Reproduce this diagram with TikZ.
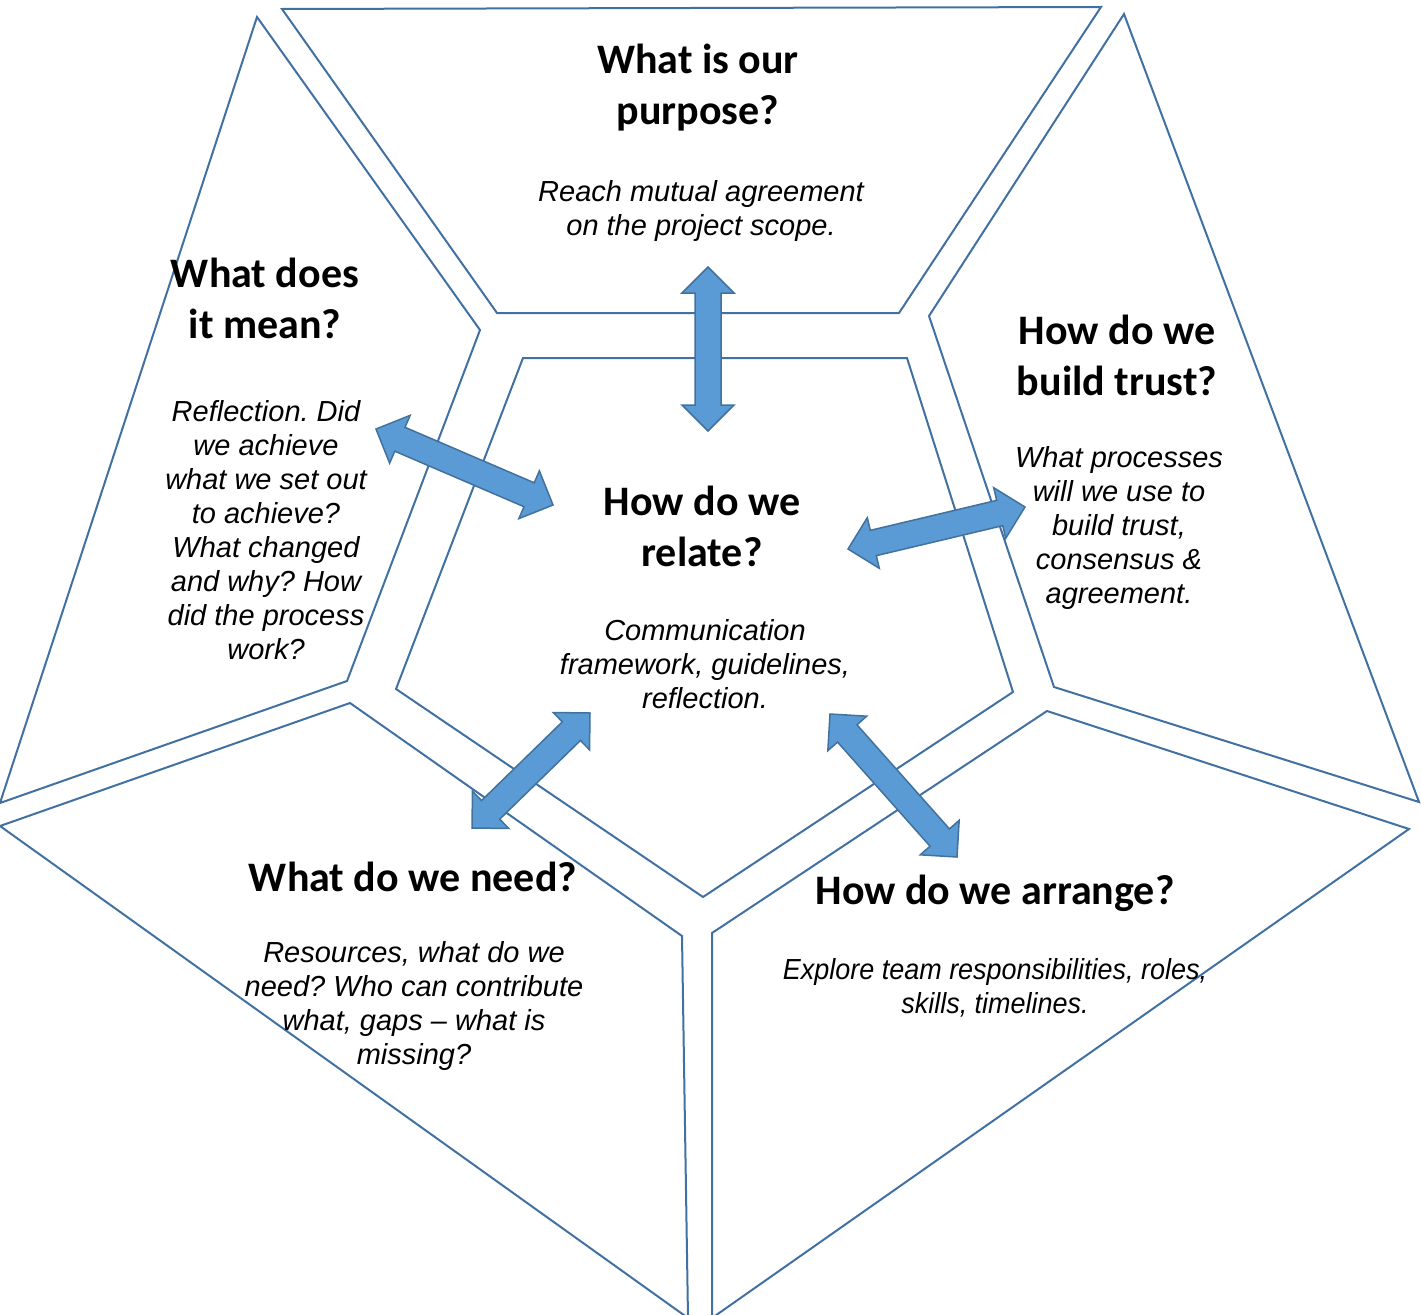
\documentclass[tikz,border=0pt]{standalone}
\usepackage{fontspec}
\setmainfont{Liberation Sans}
\newfontfamily\headfont{Carlito}
\newfontfamily\narrowfont[FakeStretch=0.93]{Liberation Sans}
\usetikzlibrary{calc}
\frenchspacing

\definecolor{edgeblue}{RGB}{65,113,163}
\definecolor{arrowfill}{RGB}{91,155,213}
\definecolor{arrowedge}{RGB}{65,113,156}

\tikzset{
  panel/.style={draw=edgeblue, line width=2pt, line join=miter},
  blockarrow/.style={fill=arrowfill, draw=arrowedge, line width=1.5pt, line join=miter},
  title/.style={font=\headfont\bfseries\fontsize{42}{51}\selectfont, align=center, inner sep=0pt},
  body/.style={font=\itshape\fontsize{29}{34}\selectfont, align=center, inner sep=0pt},
}

% double-headed block arrow between two named tips
\newcommand\blockarrow[2]{%
  \path ($(#1)!26pt!(#2)$) coordinate (ha) ($(#2)!26pt!(#1)$) coordinate (hb);
  \draw[blockarrow] (#1)
    -- ($(ha)!26pt!90:(#2)$) -- ($(ha)!13pt!90:(#2)$)
    -- ($(hb)!13pt!-90:(#1)$) -- ($(hb)!26pt!-90:(#1)$)
    -- (#2)
    -- ($(hb)!26pt!90:(#1)$) -- ($(hb)!13pt!90:(#1)$)
    -- ($(ha)!13pt!-90:(#2)$) -- ($(ha)!26pt!-90:(#2)$)
    -- cycle;
}

\begin{document}
\begin{tikzpicture}[x=1pt,y=-1pt]
\useasboundingbox (0,0) rectangle (1421,1314);

% the six panels
\begin{scope}
  \clip (0,0) rectangle (1421,1314);
  \draw[panel] (282,9) -- (1101,7) -- (899,313) -- (497,313) -- cycle;
  \draw[panel] (257,17) -- (480,330) -- (347,681) -- (0,803) -- cycle;
  \draw[panel] (1124,14) -- (929,316) -- (1054,687) -- (1419,802) -- cycle;
  \draw[panel] (350,703) -- (682,936) -- (688,1318) -- (0,826) -- cycle;
  \draw[panel] (1047,711) -- (1409,829) -- (712,1318) -- (712,933) -- cycle;
  \draw[panel] (523,358) -- (907,358) -- (1013,692) -- (703,897) -- (396,689) -- cycle;
\end{scope}

% arrow tips
\coordinate (purposeTip) at (708,267);
\coordinate (relateTipN) at (708,431);
\coordinate (meanTip)    at (376,429);
\coordinate (relateTipW) at (553,505);
\coordinate (relateTipE) at (848,549);
\coordinate (trustTip)   at (1025,507);
\coordinate (needTip)    at (472,828);
\coordinate (relateTipSW) at (590,713);
\coordinate (relateTipSE) at (830,714);
\coordinate (arrangeTip) at (957,857);

\blockarrow{purposeTip}{relateTipN}
\blockarrow{meanTip}{relateTipW}
\blockarrow{relateTipE}{trustTip}
\blockarrow{needTip}{relateTipSW}
\blockarrow{relateTipSE}{arrangeTip}

% texts
\node[title] (purposeT) at (698,88) {What is our\\purpose?};
\node[body]  (purposeB) at (701,211.5) {Reach mutual agreement\\on the project scope.};

\node[title] (meanT) at (265,298) {What does\\it mean?};
\node[body]  (meanB) at (266,530) {Reflection. Did\\we achieve\\what we set out\\to achieve?\\What changed\\and why? How\\did the process\\work?};

\node[title] (trustT) at (1117,355) {How do we\\build trust?};
\node[body]  (trustB) at (1119,527.5) {What processes\\will we use to\\build trust,\\consensus \&\\agreement.};

\node[title] (relateT) at (702,526) {How do we\\relate?};
\node[body]  (relateB) at (705,664) {Communication\\framework, guidelines,\\reflection.};

\node[title] (needT) at (413,877) {What do we need?};
\node[body]  (needB) at (414,1006) {Resources, what do we\\need? Who can contribute\\what, gaps – what is\\missing?};

\node[title] (arrangeT) at (995,893) {How do we arrange?};
\node[body, font=\narrowfont\itshape\fontsize{29}{34}\selectfont] (arrangeB) at (995,988) {Explore team responsibilities, roles,\\skills, timelines.};
\end{tikzpicture}
\end{document}
